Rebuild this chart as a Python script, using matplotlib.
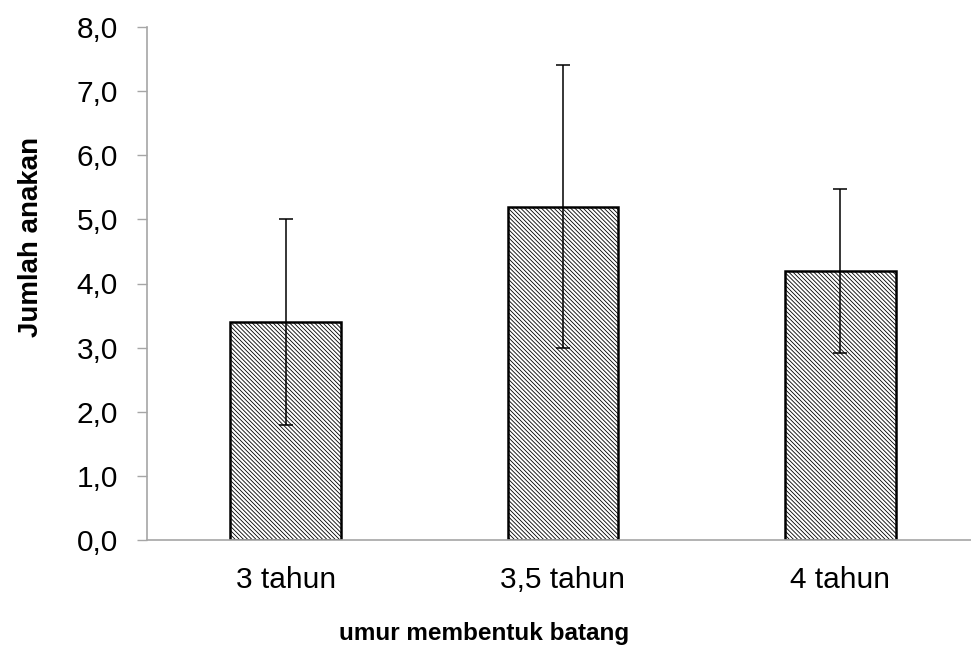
import matplotlib
matplotlib.use("Agg")
import matplotlib.pyplot as plt
from matplotlib.ticker import FuncFormatter

# data
kategori = ['3 tahun', '3,5 tahun', '4 tahun']
rata_rata = [3.4, 5.2, 4.2]
galat = [1.6, 2.2, 1.28]

plt.rcParams['font.family'] = ['Liberation Sans', 'DejaVu Sans']
plt.rcParams['hatch.linewidth'] = 0.6

fig = plt.figure(figsize=(9.71, 6.5), dpi=100)
# axes run a little past the right edge, like the cropped original
ax = fig.add_axes([147 / 971, (650 - 540) / 650, 832 / 971, 513 / 650])

x = range(len(kategori))
ax.bar(x, rata_rata, width=0.4, color='white', edgecolor='black',
       linewidth=1.8, hatch='\\' * 8, zorder=2)
ax.errorbar(x, rata_rata, yerr=galat, fmt='none', ecolor='black',
            elinewidth=1.1, capsize=5, capthick=1.1, zorder=3)

ax.set_xlim(-0.5, 2.5)
ax.set_ylim(0, 8)
ax.set_yticks([0, 1, 2, 3, 4, 5, 6, 7, 8])
ax.yaxis.set_major_formatter(FuncFormatter(lambda v, p: f'{v:.1f}'.replace('.', ',')))
ax.set_xticks(list(x))
ax.set_xticklabels(kategori)

for s in ['top', 'right']:
    ax.spines[s].set_visible(False)
for s in ['left', 'bottom']:
    ax.spines[s].set_color('#a6a6a6')
    ax.spines[s].set_linewidth(1.2)

ax.tick_params(axis='y', direction='out', length=7, width=1.0, color='#a6a6a6',
               labelsize=21.5, pad=14)
ax.tick_params(axis='x', length=0, labelsize=21.5, pad=19)

ax.set_ylabel('Jumlah anakan', fontsize=20, fontweight='bold', va='center')
ax.yaxis.set_label_coords(-0.14, 0.59)
ax.set_xlabel('umur membentuk batang', fontsize=17.5, fontweight='bold', va='center')
ax.xaxis.set_label_coords(0.405, -0.183)

fig.savefig('out.png', dpi=100)
